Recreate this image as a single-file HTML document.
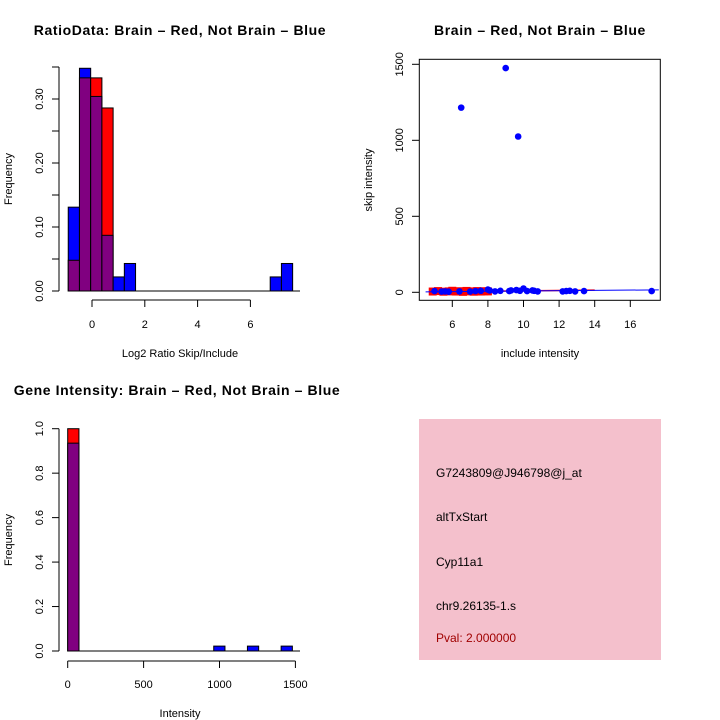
<!DOCTYPE html>
<html><head><meta charset="utf-8"><style>
body{margin:0;background:#fff}
svg{display:block;font-family:"Liberation Sans",sans-serif}
</style></head><body>
<svg id="c" width="720" height="720" viewBox="0 0 720 720">
<rect width="720" height="720" fill="#fff"/>
<g id="p1"></g>
<g id="p2"></g>
<g id="p3"></g>
<g>
<rect x="419" y="419" width="242" height="241" fill="#f4c0cc"/>
<text x="436" y="477" font-size="12">G7243809@J946798@j_at</text>
<text x="436" y="521" font-size="12">altTxStart</text>
<text x="436" y="566" font-size="12">Cyp11a1</text>
<text x="436" y="610" font-size="12">chr9.26135-1.s</text>
<text x="436" y="642" font-size="12" fill="#a00000">Pval: 2.000000</text>
</g>
</svg>
<script>
// Ratio histogram data
const ratioBinStart = -0.9;
const ratioBinWidth = 0.425;
const ratioRed = [0.048,0.333,0.333,0.286,0,0,0,0,0,0,0,0,0,0,0,0,0,0,0,0];
const ratioBlue = [0.131,0.348,0.304,0.087,0.022,0.043,0,0,0,0,0,0,0,0,0,0,0,0,0.022,0.043];
const ratioXTicks = [0,2,4,6];
const ratioYTicks = [0,0.1,0.2,0.3];
const ratioYMinor = [0.05,0.15,0.25,0.35];
// Scatter data
const scRedX = [4.9,5.2,5.5,5.8,6.0,6.2,6.4,6.6,6.8,7.0,7.2,7.4,7.6,7.8,8.0];
const scRedY = [5,8,4,6,10,5,7,3,9,6,4,8,5,7,6];
const scBlueX = [5.0,5.4,5.6,5.8,6.4,6.5,7.0,7.3,7.6,8.0,8.1,8.4,8.7,9.0,9.2,9.3,9.6,9.7,9.8,10.0,10.2,10.5,10.6,10.8,12.2,12.4,12.6,12.9,13.4,17.2];
const scBlueY = [8,5,6,4,6,1215,5,8,10,18,12,6,10,1475,8,12,15,1025,10,25,8,12,10,6,6,8,10,6,8,8];
const scXTicks = [6,8,10,12,14,16];
const scYTicks = [0,500,1000,1500];
const fitBlueX = [4.5,17.6];
const fitBlueY = [3,16];
const fitRedX = [4.8,14.0];
const fitRedY = [4,14];
// Gene intensity histogram
const giBinWidth = 74;
const giRed = [1.0,0,0,0,0,0,0,0,0,0,0,0,0,0,0,0,0,0,0,0];
const giBlue = [0.935,0,0,0,0,0,0,0,0,0,0,0,0,0.022,0,0,0.022,0,0,0.022];
const giXTicks = [0,500,1000,1500];
const giYTicks = [0,0.2,0.4,0.6,0.8,1.0];

const NS='http://www.w3.org/2000/svg';
function mk(parent,tag,attrs,txt){const e=document.createElementNS(NS,tag);for(const k in attrs)e.setAttribute(k,attrs[k]);if(txt!==undefined)e.textContent=txt;parent.appendChild(e);return e;}
const TS={'font-size':14,'font-weight':'600','letter-spacing':'0.6','text-anchor':'middle'};

// ---------- Panel 1
(function(){
const g=document.getElementById('p1');
const x=v=>92+(v-0)*26.4, y=v=>291-v*640;
mk(g,'text',Object.assign({x:180,y:35,},TS),'RatioData: Brain \u2013 Red, Not Brain \u2013 Blue');
for(let i=0;i<ratioRed.length;i++){
  const x0=x(ratioBinStart+i*ratioBinWidth), w=ratioBinWidth*26.4;
  const r=ratioRed[i], b=ratioBlue[i], m=Math.min(r,b), M=Math.max(r,b);
  if(M<=0) continue;
  const rb=mk(g,'rect',{x:x0,y:y(M),width:w,height:y(0)-y(M),fill:r>b?'#ff0000':'#0000ff',stroke:'#000','stroke-width':1});
  
  
  if(m>0){const pb=mk(g,'rect',{x:x0,y:y(m),width:w,height:y(0)-y(m),fill:'#800080',stroke:'#000','stroke-width':1});
  
  }
}
mk(g,'line',{x1:68,x2:300,y1:291,y2:291,stroke:'#000'});
mk(g,'line',{x1:59,x2:59,y1:y(0),y2:y(0.35),stroke:'#000',});
ratioYTicks.concat(ratioYMinor).forEach(v=>mk(g,'line',{x1:52,x2:59,y1:y(v),y2:y(v),stroke:'#000'}));
ratioYTicks.forEach(v=>{const t=mk(g,'text',{x:43,y:y(v),'font-size':11,'text-anchor':'middle',transform:`rotate(-90 43 ${y(v)})`},v.toFixed(2));});
mk(g,'line',{x1:x(0),x2:x(6),y1:300,y2:300,stroke:'#000',});
ratioXTicks.forEach(v=>{mk(g,'line',{x1:x(v),x2:x(v),y1:300,y2:307,stroke:'#000'});const t=mk(g,'text',{x:x(v),y:328,'font-size':11,'text-anchor':'middle'},String(v));});
mk(g,'text',{x:180,y:357,'font-size':11,'text-anchor':'middle',},'Log2 Ratio Skip/Include');
mk(g,'text',{x:12,y:179,'font-size':11,'text-anchor':'middle',transform:'rotate(-90 12 179)',},'Frequency');
})();

// ---------- Panel 2
(function(){
const g=document.getElementById('p2');
const x=v=>452.3+(v-6)*17.8, y=v=>292.3-v*0.152;
mk(g,'text',Object.assign({x:540,y:35,},TS),'Brain \u2013 Red, Not Brain \u2013 Blue');
mk(g,'rect',{x:419.3,y:59.3,width:241,height:241,fill:'none',stroke:'#000',});
scRedX.forEach((v,i)=>{const c=mk(g,'rect',{x:x(v)-4,y:y(scRedY[i])-4,width:8,height:8,fill:'#ff0000'});});
mk(g,'line',{x1:x(fitRedX[0]),y1:y(fitRedY[0]),x2:x(fitRedX[1]),y2:y(fitRedY[1]),stroke:'#ff0000','stroke-width':1.5,});
mk(g,'line',{x1:x(fitBlueX[0]),y1:y(fitBlueY[0]),x2:x(fitBlueX[1]),y2:y(fitBlueY[1]),stroke:'#0000ff','stroke-width':1,});
scBlueX.forEach((v,i)=>{const c=mk(g,'circle',{cx:x(v),cy:y(scBlueY[i]),r:3.3,fill:'#0000ff'});});
scYTicks.forEach(v=>{mk(g,'line',{x1:412,x2:419.3,y1:y(v),y2:y(v),stroke:'#000'});const t=mk(g,'text',{x:403,y:y(v),'font-size':11,'text-anchor':'middle',transform:`rotate(-90 403 ${y(v)})`},String(v));});
scXTicks.forEach(v=>{mk(g,'line',{x1:x(v),x2:x(v),y1:300.3,y2:307,stroke:'#000'});const t=mk(g,'text',{x:x(v),y:328,'font-size':11,'text-anchor':'middle'},String(v));});
mk(g,'text',{x:540,y:357,'font-size':11,'text-anchor':'middle',},'include intensity');
mk(g,'text',{x:372,y:180,'font-size':11,'text-anchor':'middle',transform:'rotate(-90 372 180)',},'skip intensity');
})();

// ---------- Panel 3
(function(){
const g=document.getElementById('p3');
const x=v=>67.7+v*0.1518, y=v=>651-v*222.3;
mk(g,'text',Object.assign({x:177,y:395,},TS),'Gene Intensity: Brain \u2013 Red, Not Brain \u2013 Blue');
for(let i=0;i<giRed.length;i++){
  const x0=x(i*giBinWidth), w=giBinWidth*0.1518;
  const r=giRed[i], b=giBlue[i], m=Math.min(r,b), M=Math.max(r,b);
  if(M<=0) continue;
  const rb=mk(g,'rect',{x:x0,y:y(M),width:w,height:y(0)-y(M),fill:r>b?'#ff0000':'#0000ff',stroke:'#000','stroke-width':1});
  
  
  if(m>0){const pb=mk(g,'rect',{x:x0,y:y(m),width:w,height:y(0)-y(m),fill:'#800080',stroke:'#000','stroke-width':1});
  
  }
}
mk(g,'line',{x1:68,x2:300,y1:651,y2:651,stroke:'#000'});
mk(g,'line',{x1:59,x2:59,y1:y(0),y2:y(1),stroke:'#000',});
giYTicks.forEach(v=>{mk(g,'line',{x1:52,x2:59,y1:y(v),y2:y(v),stroke:'#000'});const t=mk(g,'text',{x:43,y:y(v),'font-size':11,'text-anchor':'middle',transform:`rotate(-90 43 ${y(v)})`},v.toFixed(1));});
mk(g,'line',{x1:x(0),x2:x(1500),y1:661,y2:661,stroke:'#000',});
giXTicks.forEach(v=>{mk(g,'line',{x1:x(v),x2:x(v),y1:661,y2:668,stroke:'#000'});const t=mk(g,'text',{x:x(v),y:688,'font-size':11,'text-anchor':'middle'},String(v));});
mk(g,'text',{x:180,y:717,'font-size':11,'text-anchor':'middle',},'Intensity');
mk(g,'text',{x:12,y:540,'font-size':11,'text-anchor':'middle',transform:'rotate(-90 12 540)',},'Frequency');
})();
</script>
</body></html>
